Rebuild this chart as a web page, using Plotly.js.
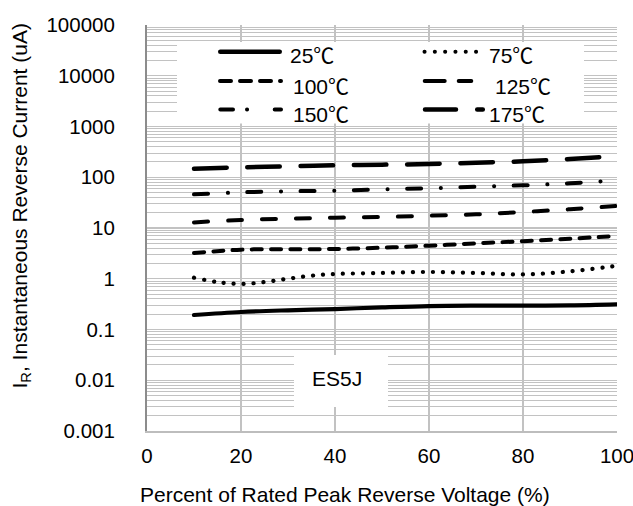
<!DOCTYPE html>
<html>
<head>
<meta charset="utf-8">
<script src="https://cdn.plot.ly/plotly-3.0.1.min.js"></script>
<style>
  html, body { margin: 0; padding: 0; background: #fff; }
  #chart { width: 633px; height: 506px; }
  /* rounded ends on dashes and dots */
  .scatterlayer path.js-line, .shapelayer path { stroke-linecap: round !important; }
</style>
</head>
<body>
<div id="chart"></div>
<script>
// Reverse leakage current (uA) vs. percent of rated peak reverse voltage
const voltagePct = [10, 20, 30, 40, 50, 60, 70, 80, 90, 100];
const voltagePct75 = [10, 15, 20, 25, 30, 35, 40, 50, 60, 70, 80, 90, 100];

const ir25  = [0.193, 0.221, 0.239, 0.253, 0.273, 0.290, 0.295, 0.295, 0.300, 0.314];
const ir75  = [1.05, 0.86, 0.79, 0.86, 1.00, 1.15, 1.24, 1.30, 1.36, 1.30, 1.22, 1.40, 1.80];
const ir100 = [3.20, 3.74, 3.80, 3.86, 4.09, 4.48, 4.99, 5.50, 6.15, 6.95];
const ir125 = [12.9, 14.4, 15.3, 16.0, 16.5, 17.5, 18.6, 20.7, 23.4, 27.2];
const ir150 = [46.0, 50.5, 52.9, 54.3, 57.8, 60.5, 65.2, 69.4, 76.0, 87.0];
const ir175 = [147, 157, 164, 172, 177, 182, 194, 206, 229, 262];

const seriesNames = ['25℃', '75℃', '100℃', '125℃', '150℃', '175℃'];

const xTickVals = [0, 20, 40, 60, 80, 100];
const xTickLabels = ['0', '20', '40', '60', '80', '100'];
const yTickVals = [0.001, 0.01, 0.1, 1, 10, 100, 1000, 10000, 100000];
const yTickLabels = ['0.001', '0.01', '0.1', '1', '10', '100', '1000', '10000', '100000'];

const partName = 'ES5J';

// ---- layout geometry (pixels) ----
const W = 633, H = 506;
const M = { l: 147, r: 16, t: 25, b: 75 };
const plotW = W - M.l - M.r, plotH = H - M.t - M.b;
const px = x => (x - M.l) / plotW;           // pixel -> paper x
const py = y => (H - M.b - y) / plotH;       // pixel -> paper y

const FONT = 'Liberation Sans, Arial, Noto Sans CJK SC, sans-serif';
const GRID = '#c2c2c2';

// line styles per series
const styles = [
  { width: 4.2, dash: 'solid' },
  { width: 4.2, dash: '0.1px,9.9px' },
  { width: 4.0, dash: '10px,9.3px' },
  { width: 4.0, dash: '14px,20px' },
  { width: 4.0, dash: '14px,19.7px,0.1px,19.5px' },
  { width: 4.5, dash: '32.5px,20.8px' }
];

const xs = [voltagePct, voltagePct75, voltagePct, voltagePct, voltagePct, voltagePct];
const ys = [ir25, ir75, ir100, ir125, ir150, ir175];

const traces = ys.map((y, i) => ({
  type: 'scatter',
  mode: 'lines',
  name: seriesNames[i],
  x: xs[i],
  y: y,
  line: { color: '#000', width: styles[i].width, dash: styles[i].dash, shape: 'spline', smoothing: 1 },
  hoverinfo: 'skip',
  showlegend: false
}));

// ---- custom legend block ----
const shapes = [];
const annotations = [];

// white backing panels
shapes.push({ type: 'rect', xref: 'paper', yref: 'paper', layer: 'above',
  x0: px(177), x1: px(584), y0: py(42), y1: py(123.5),
  fillcolor: '#fff', line: { width: 0 } });
shapes.push({ type: 'rect', xref: 'paper', yref: 'paper', layer: 'above',
  x0: px(294), x1: px(388), y0: py(355), y1: py(407),
  fillcolor: '#fff', line: { width: 0 } });

// legend sample lines: [x0, x1, y, width, dash]
const legendSamples = [
  [220.3, 279.7, 51.7, 4.6, 'solid'],
  [424.5, 483.5, 51.7, 4.0, '0.1px,10.2px'],
  [220.0, 281.0, 81.0, 4.0, '11px,9px'],
  [424.7, 471.3, 81.0, 4.0, '20px,14px'],
  [220.3, 281.0, 109.5, 4.0, '12.7px,14px,0.1px,27.6px'],
  [425.0, 482.8, 109.5, 4.5, '31px,21.2px']
];
const legendText = [[288.3, 56], [486.7, 56], [290.7, 86], [493.3, 86], [290.7, 114], [486.7, 114]];

legendSamples.forEach((s, i) => {
  shapes.push({ type: 'line', xref: 'paper', yref: 'paper', layer: 'above',
    x0: px(s[0]), x1: px(s[1]), y0: py(s[2]), y1: py(s[2]),
    line: { color: '#000', width: s[3], dash: s[4] } });
  annotations.push({ xref: 'paper', yref: 'paper', x: px(legendText[i][0]), y: py(legendText[i][1]),
    xanchor: 'left', yanchor: 'middle', showarrow: false, text: seriesNames[i],
    font: { family: FONT, size: 21, color: '#000' } });
});

// part number tag
annotations.push({ xref: 'paper', yref: 'paper', x: px(336.7), y: py(378),
  xanchor: 'center', yanchor: 'middle', showarrow: false, text: partName,
  font: { family: FONT, size: 21, color: '#000' } });

// axis titles
annotations.push({ xref: 'paper', yref: 'paper', x: px(345), y: py(494),
  xanchor: 'center', yanchor: 'middle', showarrow: false,
  text: 'Percent of Rated Peak Reverse Voltage (%)',
  font: { family: FONT, size: 21, color: '#000' } });
annotations.push({ xref: 'paper', yref: 'paper', x: px(20), y: py(206.5),
  xanchor: 'center', yanchor: 'middle', showarrow: false, textangle: -90,
  text: 'I<sub>R</sub>, Instantaneous Reverse Current (uA)',
  font: { family: FONT, size: 21, color: '#000' } });

const layout = {
  width: W, height: H,
  margin: M,
  paper_bgcolor: '#fff', plot_bgcolor: '#fff',
  showlegend: false,
  font: { family: FONT, size: 20.5, color: '#000' },
  xaxis: {
    range: [0, 100], tickmode: 'array', tickvals: xTickVals, ticktext: xTickLabels,
    showgrid: true, gridcolor: GRID, gridwidth: 1.5,
    showline: true, linecolor: '#bdbdbd', linewidth: 1.5,
    zeroline: false, ticks: '', ticklabelstandoff: 6, ticklabeloverflow: 'allow',
    tickfont: { family: FONT, size: 20.5, color: '#000' }
  },
  yaxis: {
    type: 'log', range: [-3, 5], tickmode: 'array', tickvals: yTickVals, ticktext: yTickLabels,
    showgrid: true, gridcolor: GRID, gridwidth: 1.2,
    minor: { dtick: 'D1', showgrid: true, gridcolor: GRID, gridwidth: 1 },
    showline: true, linecolor: '#8c8c8c', linewidth: 2,
    zeroline: false, ticks: '', ticklabelstandoff: 26, ticklabeloverflow: 'allow',
    tickfont: { family: FONT, size: 20.5, color: '#000' }
  },
  shapes: shapes,
  annotations: annotations
};

Plotly.newPlot('chart', traces, layout, { staticPlot: true, displayModeBar: false });
</script>
</body>
</html>
